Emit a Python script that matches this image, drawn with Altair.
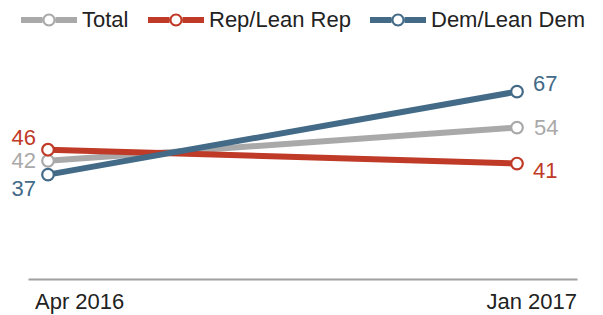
import altair as alt
import pandas as pd

# ---- data ----
series = ["Total", "Rep/Lean Rep", "Dem/Lean Dem"]
dates = ["Apr 2016", "Jan 2017"]
total = [42, 54]
rep = [46, 41]
dem = [37, 67]

# ---- styles ----
colors = ["#A9A9A9", "#BF3A27", "#436A87"]
FONT = "Liberation Sans"
# label offsets (dx, dy) per series, per side
label_style = {
    ("Total", 0): (-12, 0), ("Total", 1): (17, 0),
    ("Rep/Lean Rep", 0): (-12, -12), ("Rep/Lean Rep", 1): (16, 7),
    ("Dem/Lean Dem", 0): (-12, 14), ("Dem/Lean Dem", 1): (16, -8),
}


def month_index(d):
    t = pd.to_datetime(d, format="%b %Y")
    return (t.year - 2016) * 12 + t.month - 4


values = {"Total": total, "Rep/Lean Rep": rep, "Dem/Lean Dem": dem}
rows = []
for s in series:
    for i, d in enumerate(dates):
        rows.append({"series": s, "date": d, "idx": i, "m": month_index(d), "v": values[s][i]})
df = pd.DataFrame(rows)

W, H = 549, 249
px_per_m = 469 / 9
xdom = [-20 / px_per_m, 9 + 60 / px_per_m]

xs = alt.Scale(domain=xdom, nice=False, zero=False)
ys = alt.Scale(domain=[0, 90], nice=False)
cs = alt.Scale(domain=series, range=colors)

xaxis = alt.Axis(title=None, labels=False, ticks=False, grid=False,
                 domainColor="#A0A0A0", domainWidth=2, offset=2)
X = alt.X("m:Q", scale=xs, axis=xaxis)
Y = alt.Y("v:Q", scale=ys, axis=None)


# legend symbol: line with hollow circle, as a filled path (unit coords)
def circle(r, cw=True):
    k = 0.5523 * r
    f = lambda v: f"{v:.4f}"
    if cw:
        return (f"M{f(r)},0 C{f(r)},{f(k)} {f(k)},{f(r)} 0,{f(r)} "
                f"C{f(-k)},{f(r)} {f(-r)},{f(k)} {f(-r)},0 "
                f"C{f(-r)},{f(-k)} {f(-k)},{f(-r)} 0,{f(-r)} "
                f"C{f(k)},{f(-r)} {f(r)},{f(-k)} {f(r)},0 Z ")
    return (f"M{f(r)},0 C{f(r)},{f(-k)} {f(k)},{f(-r)} 0,{f(-r)} "
            f"C{f(-k)},{f(-r)} {f(-r)},{f(-k)} {f(-r)},0 "
            f"C{f(-r)},{f(k)} {f(-k)},{f(r)} 0,{f(r)} "
            f"C{f(k)},{f(r)} {f(r)},{f(k)} {f(r)},0 Z ")


h, ro, ri = 0.107, 0.232, 0.16
sym_path = (f"M-1,{-h} L{-ro},{-h} L{-ro},{h} L-1,{h} Z "
            f"M{ro},{-h} L1,{-h} L1,{h} L{ro},{h} Z "
            + circle(ro, True) + circle(ri, False)).strip()

legend = alt.Legend(
    title=None, orient="none", legendX=-7, legendY=-36, direction="horizontal",
    symbolType=sym_path, symbolSize=3136, symbolStrokeWidth=0,
    labelFontSize=22, labelFont=FONT, labelColor="#222222", labelOffset=5,
    columnPadding=19,
)

base = alt.Chart(df)

legend_layer = base.transform_filter("false").mark_point(filled=True, opacity=1).encode(
    x=X, y=Y,
    fill=alt.Fill("series:N", scale=cs, legend=legend),
)

lines = base.mark_line(strokeWidth=6).encode(
    x=X, y=Y,
    stroke=alt.Stroke("series:N", scale=cs, legend=None),
)

points = base.mark_point(shape="circle", size=135, strokeWidth=2.2, fill="white",
                         filled=False, opacity=1).encode(
    x=X, y=Y,
    stroke=alt.Stroke("series:N", scale=cs, legend=None),
)

layers = [legend_layer, lines, points]
for (s, i), (dx, dy) in label_style.items():
    layers.append(
        base.transform_filter((alt.datum.series == s) & (alt.datum.idx == i))
        .mark_text(align="right" if i == 0 else "left", baseline="middle",
                   dx=dx, dy=dy, fontSize=22, font=FONT)
        .encode(x=X, y=Y, text="v:Q",
                color=alt.Color("series:N", scale=cs, legend=None))
    )

# date labels under the axis line (placed at value 0, nudged down)
for i, (align, dx) in enumerate([("left", -13), ("right", 60)]):
    layers.append(
        base.transform_filter((alt.datum.series == "Total") & (alt.datum.idx == i))
        .transform_calculate(zero="0")
        .mark_text(align=align, baseline="middle", dx=dx, dy=25, fontSize=22,
                   font=FONT, color="#222222")
        .encode(x=X, y=alt.Y("zero:Q", scale=ys, axis=None), text="date:N")
    )

chart = alt.layer(*layers).properties(
    width=W, height=H,
    autosize=alt.AutoSizeParams(type="none"),
    padding={"left": 20, "top": 20, "right": 18, "bottom": 38},
).configure_view(stroke=None)

chart.save("out.html", embed_options={"renderer": "svg", "actions": False})
